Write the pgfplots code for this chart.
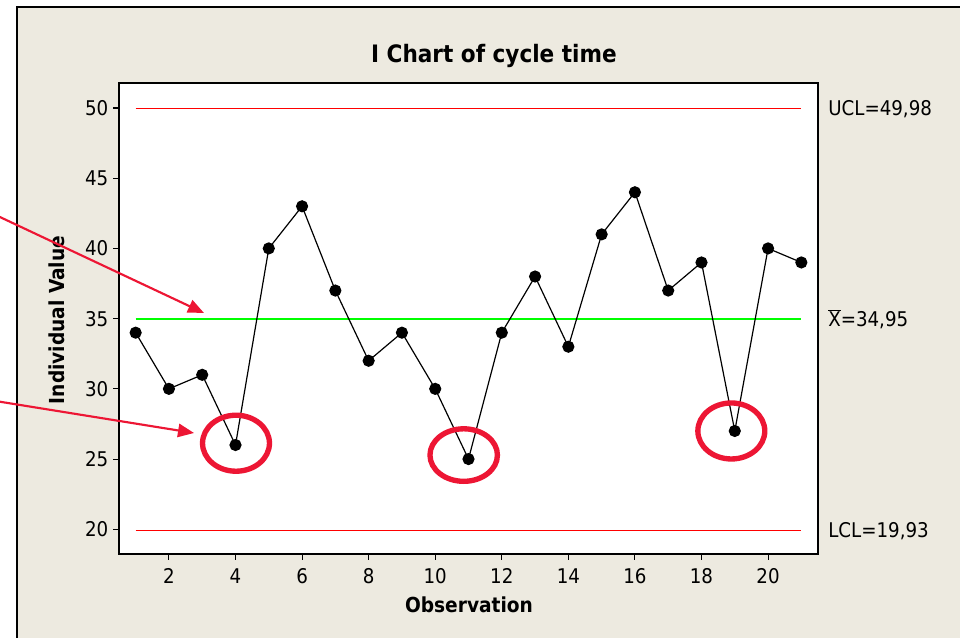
\documentclass[border=0pt]{standalone}
\usepackage{fontspec}
\setmainfont{DejaVu Sans Condensed}[BoldFont={DejaVu Sans Condensed Bold}]
\usepackage{pgfplots}
\pgfplotsset{compat=1.18}
\usetikzlibrary{arrows.meta}
\definecolor{beige}{RGB}{237,234,224}
\definecolor{annot}{RGB}{237,22,52}
\definecolor{ctlred}{RGB}{255,0,0}
\newcommand{\tickfont}{\fontsize{15.2}{18}\selectfont}
\begin{document}
\begin{tikzpicture}
\useasboundingbox (0,0) rectangle (720pt,478.5pt);
\clip (0,0) rectangle (720pt,478.5pt);
\fill[white] (0,0) rectangle (720pt,478.5pt);
\fill[beige] (12.75pt,-5pt) rectangle (730pt,473.25pt);
\draw[black, line width=1pt] (12.75pt,-5pt) -- (12.75pt,473.25pt) -- (730pt,473.25pt);
\node[font=\bfseries\fontsize{18}{21}\selectfont] at (370.5pt,436.5pt) {I Chart of cycle time};
\node[font=\bfseries\fontsize{15.5}{18}\selectfont] at (351.75pt,24.75pt) {Observation};
\node[font=\bfseries\fontsize{15.5}{18}\selectfont, rotate=90] at (42.75pt,238.5pt) {Individual Value};
\begin{axis}[
  at={(89.25pt,63pt)}, anchor=south west,
  scale only axis, width=524.25pt, height=353.25pt,
  xmin=0.5, xmax=21.5, ymin=18.24, ymax=51.78,
  xtick={2,4,...,20}, ytick={20,25,...,50},
  tick align=outside, major tick length=4.5pt,
  xtick pos=bottom, ytick pos=left,
  axis line style={line width=1.4pt, black},
  every tick/.style={black, line width=0.8pt},
  tick label style={font=\tickfont},
  xticklabel style={yshift=-3pt},
  /pgf/number format/assume math mode=true,
  axis background/.style={fill=white},
  clip=false,
]
\addplot[draw=ctlred, line width=1.1pt] coordinates {(1,49.98) (21,49.98)};
\addplot[draw=green, line width=1.3pt] coordinates {(1,34.95) (21,34.95)};
\addplot[draw=ctlred, line width=1.1pt] coordinates {(1,19.93) (21,19.93)};
\addplot[color=black, line width=0.9pt, mark=*, mark size=4.1pt, mark options={fill=black, solid}] coordinates {
(1,34) (2,30) (3,31) (4,26) (5,40) (6,43) (7,37) (8,32) (9,34) (10,30)
(11,25) (12,34) (13,38) (14,33) (15,41) (16,44) (17,37) (18,39) (19,27) (20,40) (21,39)};
\node[anchor=base west, inner sep=0pt, font=\tickfont, xshift=7.5pt, yshift=-5.5pt] at (axis cs:21.5,49.98) {UCL=49,98};
\node[anchor=base west, inner sep=0pt, font=\tickfont, xshift=7.5pt, yshift=-5.5pt] at (axis cs:21.5,34.95) {$\overline{\mbox{X}}$=34,95};
\node[anchor=base west, inner sep=0pt, font=\tickfont, xshift=7.5pt, yshift=-5.5pt] at (axis cs:21.5,19.93) {LCL=19,93};
\draw[annot, line width=4pt] (axis cs:4,26) ++(0.375pt,1.35pt) ellipse [x radius=25.1pt, y radius=21pt];
\draw[annot, line width=4pt] (axis cs:11,25) ++(-3.6pt,3pt) ellipse [x radius=25.3pt, y radius=19.7pt];
\draw[annot, line width=4pt] (axis cs:19,27) ++(-2.6pt,0pt) ellipse [x radius=25.1pt, y radius=21pt];
\end{axis}
\draw[annot, line width=1.6pt, -{Triangle[length=12pt,width=10pt]}] (-10pt,320.4pt) -- (153pt,243.75pt);
\draw[annot, line width=1.6pt, -{Triangle[length=12pt,width=10pt]}] (-10pt,178.8pt) -- (145.5pt,153.75pt);
\end{tikzpicture}
\end{document}
